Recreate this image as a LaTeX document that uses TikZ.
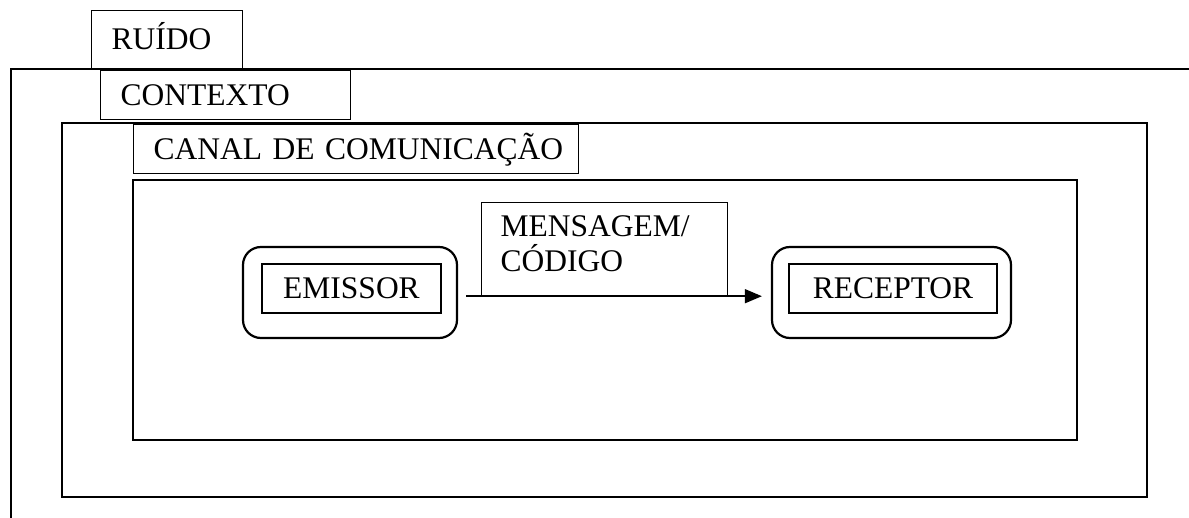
\documentclass[tikz,border=0pt]{standalone}
\usepackage{fontspec}
\setmainfont{Liberation Serif}
\usetikzlibrary{arrows.meta}

\begin{document}
\begin{tikzpicture}[
    x=1pt, y=-1pt,
    font=\fontsize{31.5pt}{35pt}\selectfont,
    frame/.style={draw, line width=2.2pt},
    tab_box/.style={draw, line width=1.2pt, anchor=north west, inner xsep=20pt, align=left, text height=20pt, text depth=0pt},
    msg_box/.style={draw, line width=1.2pt, anchor=north west, inner xsep=19pt, align=left},
    inner_box/.style={draw, line width=1.2pt, minimum height=49pt, text height=20pt, text depth=0pt},
    round_box/.style={draw, line width=2.2pt, rounded corners=18pt, minimum height=91pt},
    directed/.style={-{Triangle[length=17pt,width=14pt]}, line width=1.4pt}
]
    \useasboundingbox (0,0) rectangle (1189,518);

    % frames
    \draw[frame] (11,518) -- (11,69) -- (1189,69);
    \draw[frame] (62,123) rectangle (1147,497);
    \draw[frame] (133,180) rectangle (1077,440);

    % tabs
    \node[tab_box, text width=111pt, minimum height=58pt] (ruido) at (91,10) {\mbox{RUÍDO}};
    \node[tab_box, text width=210pt, minimum height=49pt] (contexto) at (100,70) {\mbox{CONTEXTO}};
    \node[tab_box, text width=405pt, minimum height=49pt] (canal) at (133,124) {\mbox{CANAL DE COMUNICAÇÃO}};

    % emissor / receptor
    \node[round_box, minimum width=214pt] (emissor_box) at (350,292.5) {};
    \node[inner_box, minimum width=179pt] (emissor) at (351.5,288.5) {EMISSOR};
    \node[round_box, minimum width=239pt] (receptor_box) at (891.5,292.5) {};
    \node[inner_box, minimum width=208pt] (receptor) at (893,288.5) {RECEPTOR};

    \node[msg_box, text width=208pt, minimum height=93pt] (msg) at (481,202) {MENSAGEM/\\CÓDIGO\rule[-12pt]{0pt}{12pt}};

    \draw[directed, shorten <=8pt, shorten >=9pt] (emissor_box.east |- msg.south) -- (receptor_box.west |- msg.south);

\end{tikzpicture}
\end{document}
